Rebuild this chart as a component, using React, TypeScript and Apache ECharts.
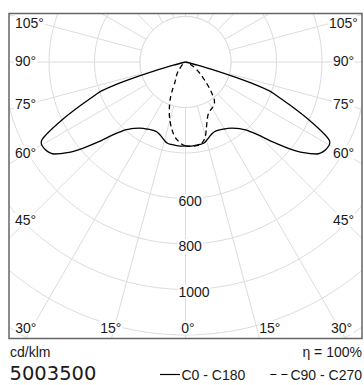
import React, { useEffect, useRef } from "react";
import * as echarts from "echarts";

// ---- data (cd/klm) ----
const solidAngles = [0, 2.5, 5, 7.5, 10, 12.5, 15, 17.5, 20, 22.5, 25, 27.5, 30, 32.5, 35, 37.5, 40, 42.5, 45, 47.5, 50, 52.5, 55, 57.5, 60, 61, 62.5, 65, 67.5, 70, 71, 72, 73, 74, 75, 76];
const c180Values = [369, 370, 370, 369, 368, 366, 357, 346, 337, 332, 332, 335, 340, 346, 355, 368, 385, 410, 455, 520, 590, 655, 705, 725, 730, 725, 690, 595, 500, 420, 390, 325, 228, 138, 55, 0];
const c0Values = [369, 370, 370, 369, 368, 366, 357, 346, 337, 332, 332, 335, 340, 346, 355, 368, 385, 410, 455, 520, 590, 655, 705, 725, 730, 725, 690, 595, 500, 420, 390, 325, 228, 138, 55, 0];
const c270Angles = [0, 2.5, 5, 7.5, 10, 12.5, 15, 17.5, 20, 22.5, 25, 27.5, 30, 35, 40, 45, 50, 55];
const c270Values = [369, 362, 350, 336, 316, 292, 265, 237, 206, 175, 138, 100, 86, 66, 45, 28, 14, 0];
const c90Angles = [0, 2.5, 5, 7.5, 10, 12.5, 15, 17.5, 20, 22.5, 25, 27.5, 30, 32.5, 35, 37.5, 40, 42.5, 45, 50, 55, 60, 65, 70, 75];
const c90Values = [370, 371, 371, 371, 369, 358, 338, 305, 277, 256, 245, 238, 234, 229, 222, 208, 182, 155, 130, 92, 62, 40, 22, 10, 0];

const radialTickLabels = [600, 800, 1000];
const sideAngleLabels = ["105°", "90°", "75°", "60°", "45°"];
const bottomAngleLabels = ["30°", "15°", "0°", "15°", "30°"];
const seriesNames = ["C0 - C180", "C90 - C270"];
const unitLabel = "cd/klm";
const efficiencyLabel = "η = 100%";
const productCode = "5003500";

// ---- layout ----
const CX = 185.5;
const CY = 62;
const R_MAX_VALUE = 1600;
const R_MAX_PX = 364;
const SCALE = R_MAX_PX / R_MAX_VALUE;
const FRAME = { x: 9, y: 13.5, w: 353, h: 325 };
const sideLabelY = [23, 60.5, 104, 152.5, 220];
const bottomLabelX = [25.8, 110.8, 188, 269.8, 341.5];
const FONT = "'Liberation Sans', Arial, sans-serif";
const FS = 14;
const GRID = "#dcdcdc";
const TEXT = "#1a1a1a";

function half(angles: number[], values: number[], mirror: boolean) {
  return angles.map((a, i) => [values[i], mirror ? 360 - a : a]);
}

function textWidth(t: string, size: number, family: string) {
  const c = document.createElement("canvas").getContext("2d");
  if (!c) return t.length * size * 0.55;
  c.font = `${size}px ${family}`;
  return c.measureText(t).width;
}

function label(text: string, x: number, y: number, align: string, size = FS, extra: any = {}) {
  return {
    type: "text",
    x,
    y,
    z: 30,
    style: {
      text,
      fill: TEXT,
      fontSize: size,
      fontFamily: FONT,
      align,
      verticalAlign: "middle",
      ...extra,
    },
  };
}

function lineSeries(name: string, data: number[][], dashed: boolean) {
  return {
    name,
    type: "line",
    coordinateSystem: "polar",
    symbol: "none",
    smooth: 0.25,
    z: 5,
    lineStyle: { color: "#000", width: 1.3, type: dashed ? [5, 3.5] : "solid" },
    itemStyle: { color: "#000" },
    data,
  };
}

export default function App() {
  const ref = useRef<HTMLDivElement>(null);
  useEffect(() => {
    if (!ref.current) return;
    const chart = echarts.init(ref.current, undefined, { renderer: "svg" });
    const bg = { backgroundColor: "#fff", padding: [0, 1] };
    const graphics: any[] = [
      {
        type: "circle",
        z: 1,
        shape: { cx: CX, cy: CY, r: 200 * SCALE },
        style: { fill: "#fff", stroke: GRID, lineWidth: 1 },
      },
      { type: "rect", z: 20, shape: { x: 0, y: 0, width: 364, height: FRAME.y }, style: { fill: "#fff" } },
      { type: "rect", z: 20, shape: { x: 0, y: 0, width: FRAME.x, height: 385 }, style: { fill: "#fff" } },
      { type: "rect", z: 20, shape: { x: FRAME.x + FRAME.w, y: 0, width: 10, height: 385 }, style: { fill: "#fff" } },
      { type: "rect", z: 20, shape: { x: 0, y: FRAME.y + FRAME.h, width: 364, height: 60 }, style: { fill: "#fff" } },
      {
        type: "rect",
        z: 21,
        shape: { x: FRAME.x, y: FRAME.y, width: FRAME.w, height: FRAME.h },
        style: { fill: "none", stroke: "#666", lineWidth: 1.5 },
      },
    ];
    sideAngleLabels.forEach((t, i) => {
      graphics.push(label(t, 14, sideLabelY[i], "left", FS, bg));
      graphics.push(label(t, 343.5, sideLabelY[i], "center", FS, bg));
    });
    bottomAngleLabels.forEach((t, i) => {
      graphics.push(label(t, bottomLabelX[i], 327.5, "center", FS, bg));
    });
    radialTickLabels.forEach((v) => {
      graphics.push(label(String(v), 177.5, CY + v * SCALE + 2, "left", FS, bg));
    });
    graphics.push(label(unitLabel, 10, 351.5, "left", FS));
    graphics.push(label(efficiencyLabel, 362, 351.5, "right", FS));
    graphics.push({
      type: "text",
      x: 9.5,
      y: 373,
      z: 30,
      style: {
        text: productCode,
        fill: TEXT,
        fontSize: 19.5,
        fontFamily: "'DejaVu Sans', sans-serif",
        align: "left",
        verticalAlign: "middle",
      },
    });
    // legend
    const LY = 374.5;
    graphics.push({ type: "line", z: 30, shape: { x1: 160, y1: LY, x2: 180, y2: LY }, style: { stroke: "#000", lineWidth: 1.2 } });
    graphics.push(label(seriesNames[0], 181.5, LY, "left", FS));
    const w2 = textWidth(seriesNames[1], FS, FONT);
    const t2x = 362 - w2;
    graphics.push(label(seriesNames[1], 362, LY, "right", FS));
    graphics.push({
      type: "line",
      z: 30,
      shape: { x1: t2x - 20, y1: LY, x2: t2x - 3, y2: LY },
      style: { stroke: "#000", lineWidth: 1.2, lineDash: [6, 5] },
    });

    chart.setOption({
      animation: false,
      polar: { center: [CX, CY], radius: R_MAX_PX },
      angleAxis: {
        type: "value",
        min: 0,
        max: 360,
        interval: 15,
        startAngle: 270,
        clockwise: true,
        axisLine: { show: false },
        axisTick: { show: false },
        axisLabel: { show: false },
        splitLine: { show: true, lineStyle: { color: GRID, width: 1 } },
      },
      radiusAxis: {
        type: "value",
        min: 0,
        max: R_MAX_VALUE,
        interval: 200,
        axisLine: { show: false },
        axisTick: { show: false },
        axisLabel: { show: false },
        splitLine: { show: true, lineStyle: { color: GRID, width: 1 } },
      },
      series: [
        lineSeries(seriesNames[0], half(solidAngles, c180Values, false), false),
        lineSeries(seriesNames[0], half(solidAngles, c0Values, true), false),
        lineSeries(seriesNames[1], half(c270Angles, c270Values, false), true),
        lineSeries(seriesNames[1], half(c90Angles, c90Values, true), true),
      ],
      graphic: graphics,
    });
    return () => chart.dispose();
  }, []);
  return <div ref={ref} style={{ position: "fixed", left: 0, top: 0, width: 364, height: 385, background: "#fff" }} />;
}
